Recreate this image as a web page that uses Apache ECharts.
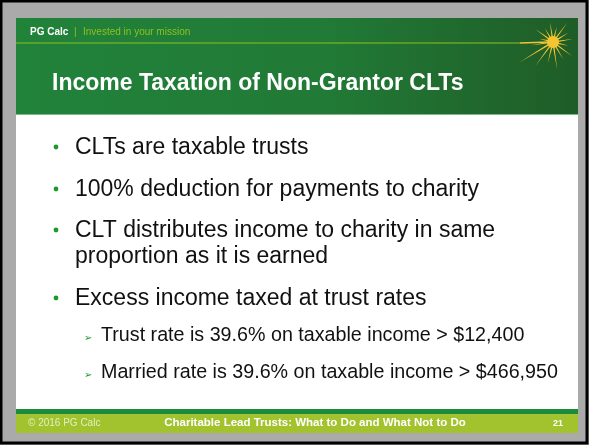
<!DOCTYPE html>
<html>
<head>
<meta charset="utf-8">
<script src="https://cdn.jsdelivr.net/npm/echarts@6/dist/echarts.min.js"></script>
<style>
html,body{margin:0;padding:0;background:#aaaaaa;}
#main{width:589px;height:445px;}
</style>
</head>
<body>
<div id="main"></div>
<script>
var brand = 'PG Calc';
var tagline = 'Invested in your mission';
var title = 'Income Taxation of Non-Grantor CLTs';
var bullets = [
  ['CLTs are taxable trusts'],
  ['100% deduction for payments to charity'],
  ['CLT distributes income to charity in same', 'proportion as it is earned'],
  ['Excess income taxed at trust rates']
];
var bulletY = [147, 189, 230, 298];
var subBullets = [
  'Trust rate is 39.6% on taxable income > $12,400',
  'Married rate is 39.6% on taxable income > $466,950'
];
var subY = [336, 373];
var footLeft = '\u00a9 2016 PG Calc';
var footMid = 'Charitable Lead Trusts: What to Do and What Not to Do';
var pageNo = '21';

var chart = echarts.init(document.getElementById('main'));
var font = 'Liberation Sans, Arial, sans-serif';
var g = [];

// frame
g.push({type:'rect', shape:{x:0,y:0,width:589,height:445}, style:{fill:'#aaaaaa'}});
g.push({type:'rect', shape:{x:1,y:1,width:586,height:442}, style:{fill:'none', stroke:'#000', lineWidth:3}});
// slide body
g.push({type:'rect', shape:{x:16,y:18,width:562,height:396}, style:{fill:'#ffffff'}});
// header
g.push({type:'rect', shape:{x:16,y:18,width:562,height:97}, style:{
  fill:{type:'linear',x:0,y:0,x2:1,y2:0,colorStops:[{offset:0,color:'#21823a'},{offset:0.55,color:'#217a36'},{offset:1,color:'#1f5c27'}]}}});
g.push({type:'rect', shape:{x:16,y:114,width:562,height:1}, style:{fill:'#7fb98a'}});
g.push({type:'line', shape:{x1:16,y1:43,x2:520,y2:43}, style:{stroke:'#8cc21e', lineWidth:1}});
g.push({type:'line', shape:{x1:520,y1:43,x2:550,y2:42}, style:{stroke:'#f5c431', lineWidth:1.5}});
g.push({type:'text', style:{x:30,y:32,text:brand,fill:'#ffffff',font:'bold 10px '+font,verticalAlign:'middle'}});
g.push({type:'text', style:{x:74,y:32,text:'|',fill:'#8cc21e',font:'10px '+font,verticalAlign:'middle'}});
g.push({type:'text', style:{x:83,y:32,text:tagline,fill:'#8cc21e',font:'10px '+font,verticalAlign:'middle'}});
g.push({type:'text', style:{x:52,y:84,text:title,fill:'#ffffff',font:'bold 23px '+font,verticalAlign:'middle'}});

// starburst (decoration)
var cx = 553, cy = 42, pts = [];
var rays = [20, 16, 24, 20, 28, 22, 30, 40, 22, 14, 22, 16, 20, 16, 24, 18];
for (var i = 0; i < rays.length; i++) {
  var a1 = (i / rays.length) * Math.PI * 2 - 0.15;
  var a2 = a1 + Math.PI / rays.length;
  pts.push([cx + rays[i] * Math.cos(a1), cy + rays[i] * Math.sin(a1)]);
  pts.push([cx + 4 * Math.cos(a2), cy + 4 * Math.sin(a2)]);
}
g.push({type:'polygon', shape:{points:pts}, style:{fill:'#f5c431'}});
g.push({type:'circle', shape:{cx:cx,cy:cy,r:6}, style:{fill:'#f5c431'}});

// bullets
bullets.forEach(function (lines, i) {
  g.push({type:'circle', shape:{cx:56,cy:bulletY[i],r:2.4}, style:{fill:'#1a9a2a'}});
  lines.forEach(function (t, j) {
    g.push({type:'text', style:{x:75,y:bulletY[i] + 1 + j*26,text:t,fill:'#111111',font:'23px '+font,verticalAlign:'middle'}});
  });
});
subBullets.forEach(function (t, i) {
  g.push({type:'text', style:{x:84,y:subY[i]+2,text:'\u27a2',fill:'#1a9a2a',font:'10px DejaVu Sans',verticalAlign:'middle'}});
  g.push({type:'text', style:{x:101,y:subY[i],text:t,fill:'#111111',font:'19.7px '+font,verticalAlign:'middle'}});
});

// footer
g.push({type:'rect', shape:{x:16,y:409,width:562,height:5}, style:{fill:'#1e8a3c'}});
g.push({type:'rect', shape:{x:16,y:414,width:562,height:19}, style:{fill:'#a2c32e'}});
g.push({type:'text', style:{x:28,y:423,text:footLeft,fill:'#e4eec0',font:'10px '+font,verticalAlign:'middle'}});
g.push({type:'text', style:{x:315,y:423,text:footMid,fill:'#ffffff',font:'bold 11.5px '+font,align:'center',verticalAlign:'middle'}});
g.push({type:'text', style:{x:558,y:424,text:pageNo,fill:'#ffffff',font:'bold 9px '+font,align:'center',verticalAlign:'middle'}});

chart.setOption({animation:false, graphic:{elements:g}});
</script>
</body>
</html>
